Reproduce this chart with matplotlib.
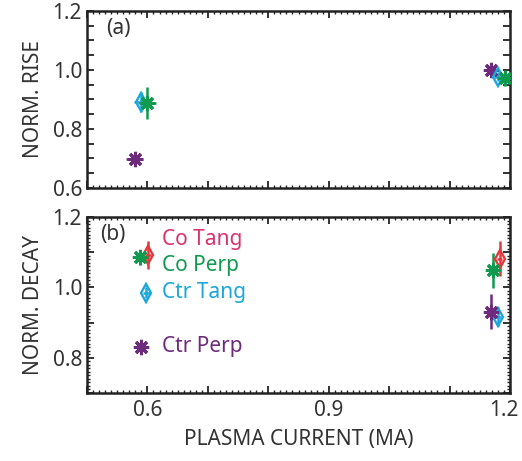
import matplotlib
matplotlib.use("Agg")
import matplotlib.pyplot as plt
import matplotlib.transforms as mtrans
from matplotlib.ticker import MultipleLocator, FuncFormatter

plt.rcParams['font.family'] = ['Noto Sans', 'DejaVu Sans']

# colours
C_CO_TANG = "#e2393c"
C_CO_TANG_TXT = "#d8336f"
C_CO_PERP = "#109a4e"
C_CTR_TANG = "#1ba7d8"
C_CTR_PERP = "#6e2b7e"

# panel (a): normalised rise
rise_ctr_perp_x = [0.579, 1.169]
rise_ctr_perp_y = [0.698, 1.000]
rise_ctr_perp_xerr = [0.014, 0.008]
rise_ctr_perp_yerr = [0.004, 0.008]

rise_ctr_tang_x = [0.590, 1.180]
rise_ctr_tang_y = [0.891, 0.977]
rise_ctr_tang_xerr = [0.012, 0.006]
rise_ctr_tang_yerr = [0.035, 0.015]

rise_co_perp_x = [0.600, 1.191]
rise_co_perp_y = [0.888, 0.972]
rise_co_perp_xerr = [0.014, 0.008]
rise_co_perp_yerr = [0.055, 0.025]

# panel (b): normalised decay
dec_co_tang_x = [0.601, 1.183]
dec_co_tang_y = [1.091, 1.082]
dec_co_tang_xerr = [0.005, 0.004]
dec_co_tang_yerr = [0.040, 0.050]

dec_co_perp_x = [0.588, 1.172]
dec_co_perp_y = [1.085, 1.049]
dec_co_perp_xerr = [0.008, 0.005]
dec_co_perp_yerr = [0.020, 0.050]

dec_ctr_tang_x = [0.598, 1.180]
dec_ctr_tang_y = [0.985, 0.917]
dec_ctr_tang_xerr = [0.006, 0.005]
dec_ctr_tang_yerr = [0.015, 0.027]

dec_ctr_perp_x = [0.589, 1.169]
dec_ctr_perp_y = [0.832, 0.931]
dec_ctr_perp_xerr = [0.003, 0.004]
dec_ctr_perp_yerr = [0.015, 0.050]

labels = ["Co Tang", "Co Perp", "Ctr Tang", "Ctr Perp"]
label_colors = [C_CO_TANG_TXT, C_CO_PERP, C_CTR_TANG, C_CTR_PERP]
label_y = [1.135, 1.063, 0.986, 0.832]

ASTER = (8, 2, 0)
FS = 15

fig = plt.figure(figsize=(5.22, 4.61), dpi=100)
ax1 = fig.add_axes([87 / 522, 1 - 188 / 461, 423 / 522, 177 / 461])
ax2 = fig.add_axes([87 / 522, 1 - 393 / 461, 423 / 522, 176 / 461])


def pt(ax, x, y, yerr, color, marker, xerr=None):
    ax.errorbar(x, y, yerr=yerr, xerr=xerr, fmt="none", ecolor=color,
                elinewidth=1.8, capsize=0, zorder=2)
    if marker == "d":
        ax.plot(x, y, linestyle="none", marker="d", ms=9,
                mfc="none", mec=color, mew=1.7, zorder=3)
    else:
        ax.plot(x, y, linestyle="none", marker=ASTER, ms=11,
                mec=color, mew=2.2, zorder=3)


pt(ax1, rise_ctr_perp_x, rise_ctr_perp_y, rise_ctr_perp_yerr, C_CTR_PERP, "*",
   xerr=rise_ctr_perp_xerr)
pt(ax1, rise_ctr_tang_x, rise_ctr_tang_y, rise_ctr_tang_yerr, C_CTR_TANG, "d",
   xerr=rise_ctr_tang_xerr)
pt(ax1, rise_co_perp_x, rise_co_perp_y, rise_co_perp_yerr, C_CO_PERP, "*",
   xerr=rise_co_perp_xerr)

pt(ax2, dec_co_tang_x, dec_co_tang_y, dec_co_tang_yerr, C_CO_TANG, "d",
   xerr=dec_co_tang_xerr)
pt(ax2, dec_co_perp_x, dec_co_perp_y, dec_co_perp_yerr, C_CO_PERP, "*",
   xerr=dec_co_perp_xerr)
pt(ax2, dec_ctr_tang_x, dec_ctr_tang_y, dec_ctr_tang_yerr, C_CTR_TANG, "d",
   xerr=dec_ctr_tang_xerr)
pt(ax2, dec_ctr_perp_x, dec_ctr_perp_y, dec_ctr_perp_yerr, C_CTR_PERP, "*",
   xerr=dec_ctr_perp_xerr)

for lab, col, yy in zip(labels, label_colors, label_y):
    ax2.text(0.624, yy, lab, color=col, fontsize=FS, va="center", ha="left")

ax1.text(0.045, 0.9, "(a)", transform=ax1.transAxes, fontsize=FS,
         va="center", ha="left", color="#333333")
ax2.text(0.03, 0.9, "(b)", transform=ax2.transAxes, fontsize=FS,
         va="center", ha="left", color="#333333")

for ax in (ax1, ax2):
    ax.set_xlim(0.5, 1.2)
    ax.xaxis.set_major_locator(MultipleLocator(0.1))
    ax.xaxis.set_minor_locator(MultipleLocator(0.01))
    ax.tick_params(which="both", direction="in", top=True, right=True,
                   colors="#222222", labelcolor="#333333", labelsize=FS)
    ax.tick_params(which="major", length=5, width=1.3)
    ax.tick_params(which="minor", length=2.5, width=1.0)
    for s in ax.spines.values():
        s.set_linewidth(1.8)
        s.set_color("#222222")

xfmt = FuncFormatter(lambda v, p: f"{v:.1f}" if round(v * 10) in (6, 9, 12) else "")

ax1.set_ylim(0.6, 1.2)
ax1.yaxis.set_major_locator(MultipleLocator(0.2))
ax1.yaxis.set_minor_locator(MultipleLocator(0.05))
ax1.yaxis.set_major_formatter(FuncFormatter(lambda v, p: f"{v:.1f}"))
ax1.tick_params(axis="y", which="minor", length=5, width=1.3)
ax1.tick_params(axis="x", labelbottom=False)
ax1.set_ylabel("NORM. RISE", fontsize=FS, color="#333333", labelpad=6)

ax2.set_ylim(0.7, 1.2)
ax2.yaxis.set_major_locator(MultipleLocator(0.1))
ax2.yaxis.set_minor_locator(MultipleLocator(0.01))
ax2.yaxis.set_major_formatter(
    FuncFormatter(lambda v, p: f"{v:.1f}" if round(v * 10) in (8, 10, 12) else ""))
ax2.xaxis.set_major_formatter(xfmt)
ax2.tick_params(axis="x", pad=5)
ax2.set_ylabel("NORM. DECAY", fontsize=FS, color="#333333", labelpad=6)
ax2.set_xlabel("PLASMA CURRENT (MA)", fontsize=FS, color="#333333", labelpad=6)

# nudge the last x tick label inwards so it stays inside the figure
fig.canvas.draw()
shift = mtrans.ScaledTranslation(-6 / 100, 0, fig.dpi_scale_trans)
for lbl in ax2.get_xticklabels():
    if lbl.get_text() == "1.2":
        lbl.set_transform(lbl.get_transform() + shift)

fig.savefig("out.png", dpi=100)
